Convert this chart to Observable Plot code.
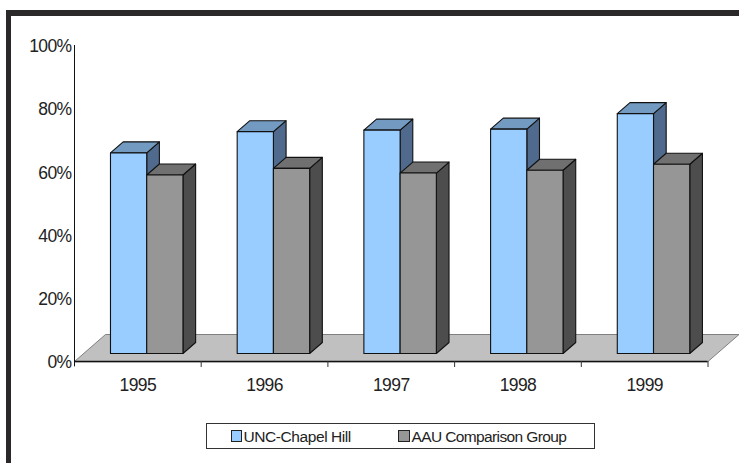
<!DOCTYPE html>
<html>
<head>
<meta charset="utf-8">
<script src="https://cdn.jsdelivr.net/npm/d3@7"></script>
<script src="https://cdn.jsdelivr.net/npm/@observablehq/plot@0.6"></script>
<style>
html,body{margin:0;padding:0;background:#fff;}
#page{position:relative;width:739px;height:463px;overflow:hidden;font-family:"Liberation Sans",Arial,sans-serif;}
#frameTop{position:absolute;left:6px;top:10px;right:0;height:5.5px;background:#2b2829;}
#frameLeft{position:absolute;left:6px;top:10px;bottom:0;width:5px;background:#2b2829;}
#chart{position:absolute;left:0;top:0;}
#legend{position:absolute;left:206px;top:423px;width:387px;height:24px;border:1px solid #333;box-sizing:content-box;background:#fff;font-size:15.5px;color:#222;}
.sw{position:absolute;top:6px;width:9.5px;height:10px;border:1px solid #222;}
.lb{position:absolute;top:3.5px;line-height:17px;white-space:nowrap;}
#chart svg g[aria-label^="y-axis"] text, #chart svg g[aria-label^="x-axis"] text{letter-spacing:-0.6px;}
</style>
</head>
<body>
<div id="page">
  <div id="chart"></div>
  <div id="frameTop"></div>
  <div id="frameLeft"></div>
  <div id="legend"></div>
</div>
<script>
const categories = ["1995", "1996", "1997", "1998", "1999"];
const uncValues = [63.5, 70.2, 70.7, 71.0, 75.9];
const aauValues = [56.5, 58.6, 57.1, 58.0, 59.9];
const yTicks = [0, 20, 40, 60, 80, 100];
const seriesNames = ["UNC-Chapel Hill", "AAU Comparison Group"];
const uncColors = {front: "#99ccff", top: "#739ac1", side: "#4f6a8c"};
const aauColors = {front: "#969696", top: "#707070", side: "#4d4d4d"};

// depth of the 3D projection, in scale units (categories, percent)
const floorDx = 31 / 126.7, floorDy = 8.54;
const topDx = 0.1, topDy = 3.48;
const baseDy = 2.53;
const barW = 0.286, barStart = 0.284;

const polys = [];
function addPoly(id, color, pts) {
  pts.forEach(([x, y]) => polys.push({id, color, x, y}));
}
function addBar(id, left, value, c) {
  const r = left + barW, b = baseDy, t = baseDy + value;
  addPoly(id + "s", c.side, [[r, b], [r + topDx, b + topDy], [r + topDx, t + topDy], [r, t]]);
  addPoly(id + "t", c.top, [[left, t], [left + topDx, t + topDy], [r + topDx, t + topDy], [r, t]]);
  addPoly(id + "f", c.front, [[left, b], [r, b], [r, t], [left, t]]);
}
categories.forEach((cat, i) => {
  addBar("u" + cat, i + barStart, uncValues[i], uncColors);
  addBar("a" + cat, i + barStart + barW, aauValues[i], aauColors);
});

const floor = [[0, 0], [floorDx, floorDy], [5 + floorDx, floorDy], [5, 0]].map(([x, y]) => ({x, y}));

const plot = Plot.plot({
  width: 739,
  height: 420,
  marginLeft: 74,
  marginRight: 31.5,
  marginTop: 45,
  marginBottom: 59,
  style: {fontFamily: '"Liberation Sans", Arial, sans-serif', background: "transparent", color: "#222", overflow: "visible"},
  x: {domain: [0, 5]},
  y: {domain: [0, 100]},
  color: {type: "identity"},
  marks: [
    Plot.line(floor, {x: "x", y: "y", curve: "linear-closed", fill: "#c0c0c0", stroke: "#808080", strokeWidth: 1}),
    Plot.ruleY([0], {stroke: "#111", strokeWidth: 1.3}),
    Plot.ruleX([0], {y1: -1.7, y2: 100, stroke: "#111", strokeWidth: 1}),
    Plot.ruleX(d3.range(1, 6), {y1: -1.9, y2: 0, stroke: "#333", strokeWidth: 1}),
    Plot.line(polys, {x: "x", y: "y", z: "id", fill: "color", curve: "linear-closed", stroke: "#111", strokeWidth: 1.1}),
    Plot.axisY({ticks: yTicks, tickSize: 0, tickPadding: 3, dy: 1, tickFormat: d => d + "%", fontSize: 17.5, label: null, anchor: "left"}),
    Plot.axisX({ticks: categories.map((c, i) => i + 0.5), tickFormat: d => categories[d - 0.5], tickSize: 0, tickPadding: 17, fontSize: 17.5, label: null, anchor: "bottom"})
  ]
});
document.getElementById("chart").appendChild(plot);

const legend = document.getElementById("legend");
[[seriesNames[0], uncColors.front, 23.5, 36.5, "-0.42px"], [seriesNames[1], aauColors.front, 191, 204.5, "-0.62px"]].forEach(([name, color, sx, tx, ls]) => {
  const s = document.createElement("div");
  s.className = "sw"; s.style.left = sx + "px"; s.style.background = color;
  const l = document.createElement("div");
  l.className = "lb"; l.style.left = tx + "px"; l.style.letterSpacing = ls; l.textContent = name;
  legend.append(s, l);
});
</script>
</body>
</html>
